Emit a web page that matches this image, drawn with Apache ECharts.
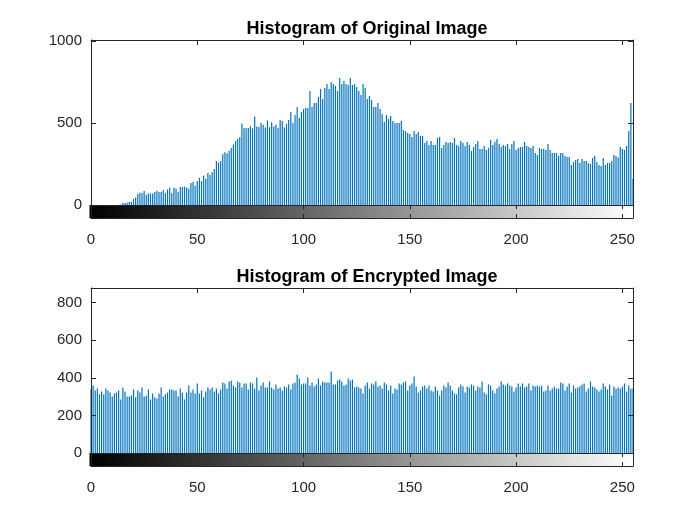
<!DOCTYPE html>
<html>
<head>
<meta charset="utf-8">
<title>imhist</title>
<script src="https://cdn.jsdelivr.net/npm/echarts@6/dist/echarts.min.js"></script>
<style>
  html, body { margin: 0; padding: 0; background: #fff; }
  #main { width: 700px; height: 525px; }
</style>
</head>
<body>
<div id="main"></div>
<script>
// counts per gray level 0..255
var origCounts = [
  0,0,0,0,0,0,0,0,0,0,
  0,0,0,1,3,12,12,15,18,20,
  37,45,67,75,75,85,62,70,70,70,
  80,87,80,80,92,72,95,105,72,105,
  100,80,110,110,112,107,100,134,142,118,
  146,164,146,179,160,195,183,200,220,268,
  258,268,309,322,316,330,347,368,390,402,
  414,497,470,468,470,480,467,540,478,475,
  500,490,472,515,475,505,478,490,470,518,
  512,474,494,518,567,500,549,598,531,567,
  585,592,592,695,598,622,622,659,707,646,
  713,738,707,750,738,726,695,774,738,756,
  738,732,774,732,738,720,695,671,738,713,
  646,665,640,598,598,622,585,555,506,549,
  525,543,512,500,500,500,512,457,451,439,
  433,415,451,433,445,421,421,378,390,366,
  390,366,366,409,415,348,366,384,378,384,
  378,409,366,360,390,378,360,384,366,329,
  354,372,390,342,342,360,335,348,396,366,
  384,402,372,354,366,360,372,342,372,390,
  335,348,354,354,384,360,354,348,360,317,
  305,348,342,342,335,372,335,317,317,317,
  299,317,317,299,293,293,244,262,274,281,
  256,281,268,268,256,250,287,299,262,244,
  238,287,244,256,256,268,305,299,290,354,
  342,335,360,451,622,160
];

var encCounts = [
  338,359,333,343,312,327,312,343,333,322,
  301,317,322,333,285,349,327,301,301,306,
  338,296,333,322,349,301,306,338,285,317,
  296,290,317,349,301,312,322,338,338,333,
  333,301,343,322,285,322,359,322,338,317,
  370,317,333,296,327,349,338,349,327,343,
  317,338,375,370,343,381,386,359,349,381,
  375,349,370,370,338,375,370,343,402,333,
  359,375,349,349,381,349,338,365,343,
  349,333,354,349,365,338,370,375,418,396,
  365,370,370,402,359,375,354,365,396,359,
  381,375,375,375,434,365,365,386,391,381,
  359,365,396,386,391,349,354,349,343,317,
  359,375,343,370,365,381,354,359,343,375,
  365,333,359,317,343,338,370,365,375,381,
  333,359,370,407,354,322,333,354,359,343,
  359,333,327,354,333,306,333,359,349,375,
  359,333,317,312,349,
  365,354,322,354,349,365,359,333,354,349,
  381,322,312,365,359,333,317,343,354,381,
  365,359,370,359,354,327,349,370,354,370,
  349,354,370,333,359,354,359,354,359,327,
  333,359,333,343,354,343,343,375,370,333,
  354,370,322,359,343,349,354,365,370,327,
  343,381,354,349,338,327,338,370,354,338,
  365,306,354,343,349,343,354,370,327,359,
  343,343
];

var titles = ['Histogram of Original Image', 'Histogram of Encrypted Image'];
var xTicks = [0, 50, 100, 150, 200, 250];
var yMaxOrig = 1006, yStepOrig = 500;
var yMaxEnc = 878, yStepEnc = 200;

var levels = [];
for (var i = 0; i < 256; i++) levels.push(i);

var ink = '#262626';
var font = 'Liberation Sans, Arial, sans-serif';

function pairs(counts) {
  return counts.map(function (c, i) { return [levels[i], c]; });
}
function strip() {
  return levels.map(function (g) { return [g, 1]; });
}

// box lines must stay on the grid edges, not jump to zero
var line = { show: true, onZero: false, lineStyle: { color: ink, width: 1 } };
var noLine = { show: false, onZero: false };

// the x axes of one histogram + its gray strip underneath
function xAxes(grid) {
  return [
    { gridIndex: grid, type: 'value', min: 0, max: 255, interval: 50, z: 5,
      axisLine: noLine, axisTick: { show: false }, axisLabel: { show: false }, splitLine: { show: false } },
    { gridIndex: grid, type: 'value', position: 'top', min: 0, max: 255, interval: 50, z: 5,
      axisLine: line, axisTick: { inside: true, length: 5, lineStyle: { color: ink } },
      axisLabel: { show: false }, splitLine: { show: false } },
    { gridIndex: grid + 1, type: 'value', position: 'bottom', min: 0, max: 255, interval: 50, z: 5,
      axisLine: line, axisTick: { inside: true, length: 4, lineStyle: { color: ink } },
      axisLabel: { margin: 14, color: ink, fontSize: 15, fontFamily: font,
        formatter: function (v) { return xTicks.indexOf(v) >= 0 ? v : ''; } },
      splitLine: { show: false } },
    { gridIndex: grid + 1, type: 'value', position: 'top', min: 0, max: 255, interval: 50, z: 5,
      axisLine: line, axisTick: { inside: true, length: 4, lineStyle: { color: ink } },
      axisLabel: { show: false }, splitLine: { show: false } }
  ];
}
function yAxes(grid, max, step) {
  return [
    { gridIndex: grid, type: 'value', position: 'left', min: 0, max: max, interval: step, z: 5,
      axisLine: line, axisTick: { inside: true, length: 5, lineStyle: { color: ink } },
      axisLabel: { margin: 9, color: ink, fontSize: 15, fontFamily: font,
        formatter: function (v) { return v % step === 0 ? v : ''; } },
      splitLine: { show: false } },
    { gridIndex: grid, type: 'value', position: 'right', min: 0, max: max, interval: step, z: 5,
      axisLine: line, axisTick: { inside: true, length: 5, lineStyle: { color: ink } },
      axisLabel: { show: false }, splitLine: { show: false } },
    { gridIndex: grid + 1, type: 'value', position: 'left', min: 0, max: 1, z: 5,
      axisLine: line, axisTick: { show: false }, axisLabel: { show: false }, splitLine: { show: false } },
    { gridIndex: grid + 1, type: 'value', position: 'right', min: 0, max: 1, z: 5,
      axisLine: line, axisTick: { show: false }, axisLabel: { show: false }, splitLine: { show: false } }
  ];
}

var chartDom = document.getElementById('main');
var myChart = echarts.init(chartDom, null, { renderer: 'canvas' });
var option;
option = {
  animation: false,
  backgroundColor: '#fff',
  title: [
    { text: titles[0], left: 362, top: 15, textAlign: 'center',
      textStyle: { fontSize: 18, fontWeight: 'bold', color: '#000', fontFamily: font } },
    { text: titles[1], left: 362, top: 263, textAlign: 'center',
      textStyle: { fontSize: 18, fontWeight: 'bold', color: '#000', fontFamily: font } }
  ],
  grid: [
    { left: 91, top: 40, width: 542, height: 165 },
    { left: 91, top: 205, width: 542, height: 13 },
    { left: 91, top: 288, width: 542, height: 165 },
    { left: 91, top: 453, width: 542, height: 13 }
  ],
  xAxis: xAxes(0).concat(xAxes(2)),
  yAxis: yAxes(0, yMaxOrig, yStepOrig).concat(yAxes(2, yMaxEnc, yStepEnc)),
  series: [
    { type: 'bar', xAxisIndex: 0, yAxisIndex: 0, barWidth: 1.2, data: pairs(origCounts),
      itemStyle: { color: '#0072BD' } },
    { type: 'bar', xAxisIndex: 2, yAxisIndex: 2, barWidth: 3, z: 1, data: strip(),
      itemStyle: { color: function (p) { var g = p.data[0]; return 'rgb(' + g + ',' + g + ',' + g + ')'; } } },
    { type: 'bar', xAxisIndex: 4, yAxisIndex: 4, barWidth: 1.2, data: pairs(encCounts),
      itemStyle: { color: '#0072BD' } },
    { type: 'bar', xAxisIndex: 6, yAxisIndex: 6, barWidth: 3, z: 1, data: strip(),
      itemStyle: { color: function (p) { var g = p.data[0]; return 'rgb(' + g + ',' + g + ',' + g + ')'; } } }
  ]
};
option && myChart.setOption(option);
</script>
</body>
</html>
